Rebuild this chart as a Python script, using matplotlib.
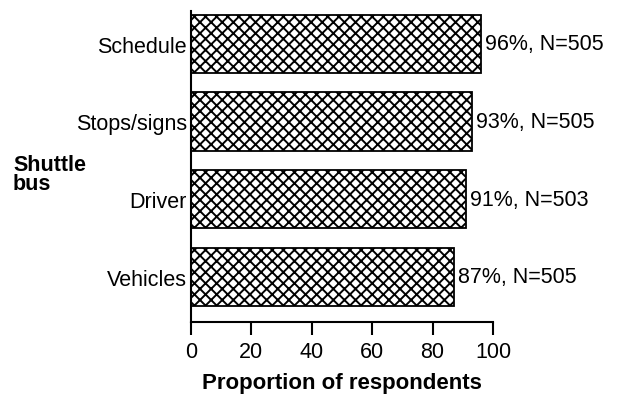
import matplotlib.pyplot as plt
import numpy as np

plt.rcParams['font.family'] = ['Liberation Sans', 'DejaVu Sans']
plt.rcParams['hatch.linewidth'] = 1.4

categories = ['Vehicles', 'Driver', 'Stops/signs', 'Schedule']
values = [87, 91, 93, 96]
counts = [505, 503, 505, 505]

fig = plt.figure(figsize=(6.19, 4.02), dpi=100)
ax = fig.add_axes([0.3086, 0.1965, 0.4878, 0.7735])

pos = np.arange(len(categories))
ax.barh(pos, values, height=0.75, color='white', edgecolor='black',
        hatch='xxx', linewidth=1.3)

for p, v, n in zip(pos, values, counts):
    ax.text(v + 1.3, p, f'{v}%, N={n}', va='center', ha='left', fontsize=15.5)

ax.set_yticks(pos)
ax.set_yticklabels(categories, fontsize=15.5)
ax.tick_params(axis='y', length=0, pad=3)
ax.set_xlim(0, 100)
ax.set_ylim(-0.58, 3.42)
ax.set_xticks([0, 20, 40, 60, 80, 100])
ax.tick_params(axis='x', labelsize=15.5, length=9, width=1.5, direction='out', pad=5)
ax.spines['top'].set_visible(False)
ax.spines['right'].set_visible(False)
ax.spines['left'].set_linewidth(1.5)
ax.spines['bottom'].set_linewidth(1.5)

ax.set_xlabel('Proportion of respondents', fontsize=16, fontweight='bold', labelpad=7)
fig.text(0.021, 0.565, 'Shuttle\nbus', fontsize=15.5, fontweight='bold',
         ha='left', va='center', linespacing=0.92)

fig.savefig('out.png', dpi=100)
